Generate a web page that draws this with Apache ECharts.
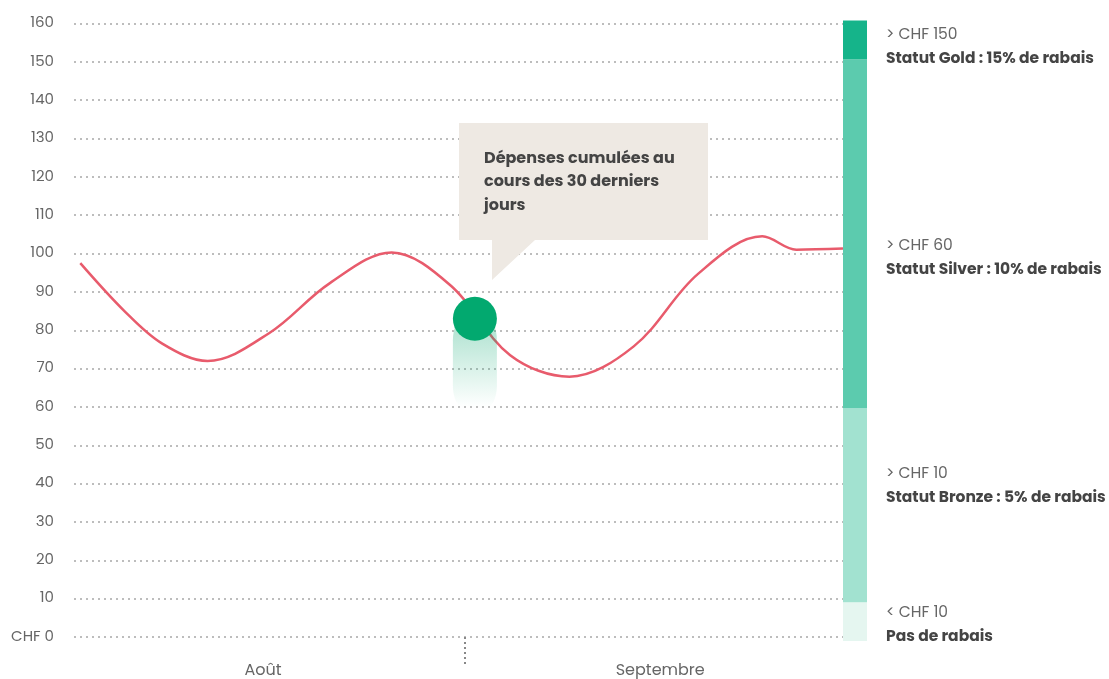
<!DOCTYPE html>
<html><head><meta charset="utf-8">
<style>html,body{margin:0;padding:0;background:#fff}#c{width:1109px;height:679px}</style>
<script src="https://cdn.jsdelivr.net/npm/echarts@6/dist/echarts.min.js"></script>
</head><body><div id="c"></div>
<script>
// --- data ---
const yTicks = [0,10,20,30,40,50,60,70,80,90,100,110,120,130,140,150,160];
const monthLabels = ['Août', 'Septembre'];
const monthLabelPos = [15, 46.5];      // day positions of month labels
const monthSeparator = [31];           // 1 septembre
const spendDays =   [0.5, 4, 7, 10.6, 15.5, 20.3, 25.2, 29.9, 34.6, 39.3, 44.4, 49.5, 54.6, 57.3, 61];
const spendValues = [97.5, 85, 76.5, 72, 79.3, 92.3, 100.3, 91.6, 73.5, 67.9, 75.8, 94.7, 104.5, 101, 101.3];
const currentDay = 31.8, currentValue = 83;
const tierNames = ['Pas de rabais','Statut Bronze : 5% de rabais','Statut Silver : 10% de rabais','Statut Gold : 15% de rabais'];
const tierThresholdText = ['< CHF 10','> CHF 10','> CHF 60','> CHF 150'];
const tierBands = [10, 50, 90, 10];   // stacked band heights (0-10, 10-60, 60-150, 150-160)
const tierColors = ['#e5f6f0','#a2e2d0','#5ccbae','#15b48a'];

const FONT = 'Poppins, Inter, sans-serif';
const chart = echarts.init(document.getElementById('c'));
const gridTop = 23.5, gridBottom = 40;

const tierLabelY = [611, 472, 244, 33];
const graphics = [];
tierNames.forEach((n,i)=>{
  graphics.push({type:'text', left:886, top:tierLabelY[i]-6, style:{text:tierThresholdText[i], font:'15.5px '+FONT, fill:'#666'}});
  graphics.push({type:'text', left:886, top:tierLabelY[i]+18, style:{text:n, font:'bold 15.5px '+FONT, fill:'#444'}});
});
// callout
graphics.push({type:'polygon', shape:{points:[[459,123],[708,123],[708,240],[535,240],[492,280],[492,240],[459,240]]}, style:{fill:'#eee9e3'}, z:1});
graphics.push({type:'text', left:484, top:147, z:2, style:{text:'Dépenses cumulées au\ncours des 30 derniers\njours', font:'bold 16px '+FONT, fill:'#444', lineHeight:23.5}});

chart.setOption({
  animation:false,
  grid:[
    {left:74, right:266, top:gridTop, bottom:gridBottom},
    {left:843, width:24, top:gridTop-3, bottom:gridBottom-2}
  ],
  xAxis:[
    {type:'value', gridIndex:0, min:0, max:61,
     axisLine:{show:false}, splitLine:{show:false},
     axisTick:{show:true, customValues:monthSeparator, length:30, lineStyle:{color:'#888', width:2, type:[2,3]}},
     axisLabel:{customValues:monthLabelPos, margin:26, fontSize:16, color:'#666', fontFamily:FONT,
       formatter:(v)=>monthLabels[monthLabelPos.indexOf(v)]}},
    {type:'category', gridIndex:1, data:[''], show:false}
  ],
  yAxis:[
    {type:'value', gridIndex:0, min:0, max:160, interval:10,
     axisLine:{show:false}, axisTick:{show:false},
     axisLabel:{margin:20, fontSize:15, color:'#666', fontFamily:FONT, formatter:(v)=>v===0?'CHF 0':String(v)},
     splitLine:{lineStyle:{color:'#bdbdbd', width:2, type:[2,4]}}},
    {type:'value', gridIndex:1, min:0, max:160, show:false}
  ],
  graphic:graphics,
  series:[
    ...tierBands.map((b,i)=>({type:'bar', xAxisIndex:1, yAxisIndex:1, stack:'t', barWidth:'100%', data:[b], itemStyle:{color:tierColors[i]}, silent:true})),
    {type:'line', data:spendDays.map((d,i)=>[d, spendValues[i]]), smooth:0.35, symbol:'none',
     lineStyle:{color:'#e85b6c', width:2.5}, z:3},
    {type:'scatter', data:[[currentDay, currentValue-11.5]], symbol:'roundRect', symbolSize:[44, 90], z:4,
     itemStyle:{opacity:1, color:{type:'linear',x:0,y:0,x2:0,y2:1,colorStops:[{offset:0,color:'rgba(10,168,112,0.35)'},{offset:1,color:'rgba(10,168,112,0)'}]}}},
    {type:'scatter', data:[[currentDay, currentValue]], symbolSize:44, z:5, itemStyle:{color:'#02a96f', opacity:1}}
  ]
});
</script></body></html>
